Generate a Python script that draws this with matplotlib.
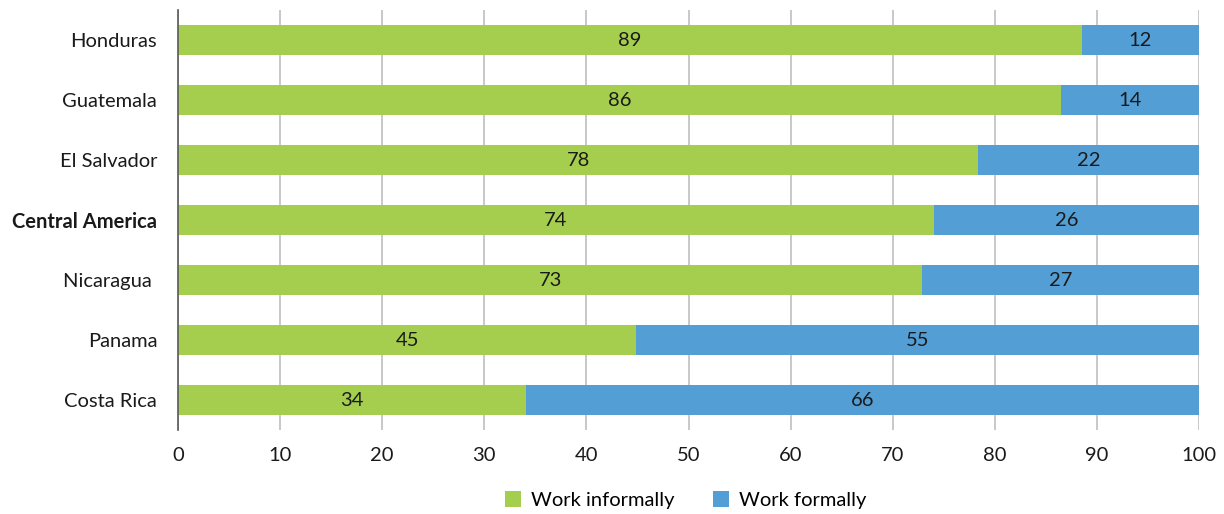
import matplotlib
matplotlib.use("Agg")
import matplotlib.pyplot as plt

countries = ["Honduras", "Guatemala", "El Salvador", "Central America",
             "Nicaragua ", "Panama", "Costa Rica"]
informal = [88.5, 86.5, 78.4, 74.0, 72.9, 44.9, 34.1]
formal = [11.5, 13.5, 21.6, 26.0, 27.1, 55.1, 65.9]
informal_labels = ["89", "86", "78", "74", "73", "45", "34"]
formal_labels = ["12", "14", "22", "26", "27", "55", "66"]
xticks = [0, 10, 20, 30, 40, 50, 60, 70, 80, 90, 100]

GREEN = "#a6ce4e"
BLUE = "#529ed5"

plt.rcParams["font.family"] = ["Lato", "DejaVu Sans"]

fig = plt.figure(figsize=(12.24, 5.14), dpi=100)
ax = fig.add_axes([0.1454, 0.1634, 0.8342, 0.8171])

y = list(range(len(countries)))
ax.barh(y, informal, height=0.5, color=GREEN, label="Work informally", zorder=2)
ax.barh(y, formal, left=informal, height=0.5, color=BLUE, label="Work formally", zorder=2)

for i in y:
    ax.text(informal[i] / 2, i, informal_labels[i], ha="center", va="center",
            fontsize=14.5, color="#1a1a1a", zorder=3)
    ax.text(informal[i] + formal[i] / 2, i, formal_labels[i], ha="center", va="center",
            fontsize=14.5, color="#1a1a1a", zorder=3)

ax.set_xlim(0, 100)
ax.set_ylim(len(countries) - 0.5, -0.5)
ax.set_xticks(xticks)
ax.set_yticks(y)
ax.set_yticklabels(countries)
for lbl in ax.get_yticklabels():
    if lbl.get_text() == "Central America":
        lbl.set_fontweight("bold")

ax.tick_params(axis="both", length=0, labelsize=14.5, colors="#1a1a1a")
ax.tick_params(axis="x", pad=12)
ax.tick_params(axis="y", pad=15)
ax.grid(axis="x", color="#bfbfbf", linewidth=1.2, zorder=0)
for side in ["top", "right", "bottom"]:
    ax.spines[side].set_visible(False)
ax.spines["left"].set_color("#595959")
ax.spines["left"].set_linewidth(1.2)

ax.legend(loc="center", bbox_to_anchor=(0.497, -0.167), ncol=2, frameon=False,
          fontsize=14.5, handlelength=0.8, handleheight=0.8, columnspacing=1.9,
          handletextpad=0.5)

fig.savefig("out.png", dpi=100)
